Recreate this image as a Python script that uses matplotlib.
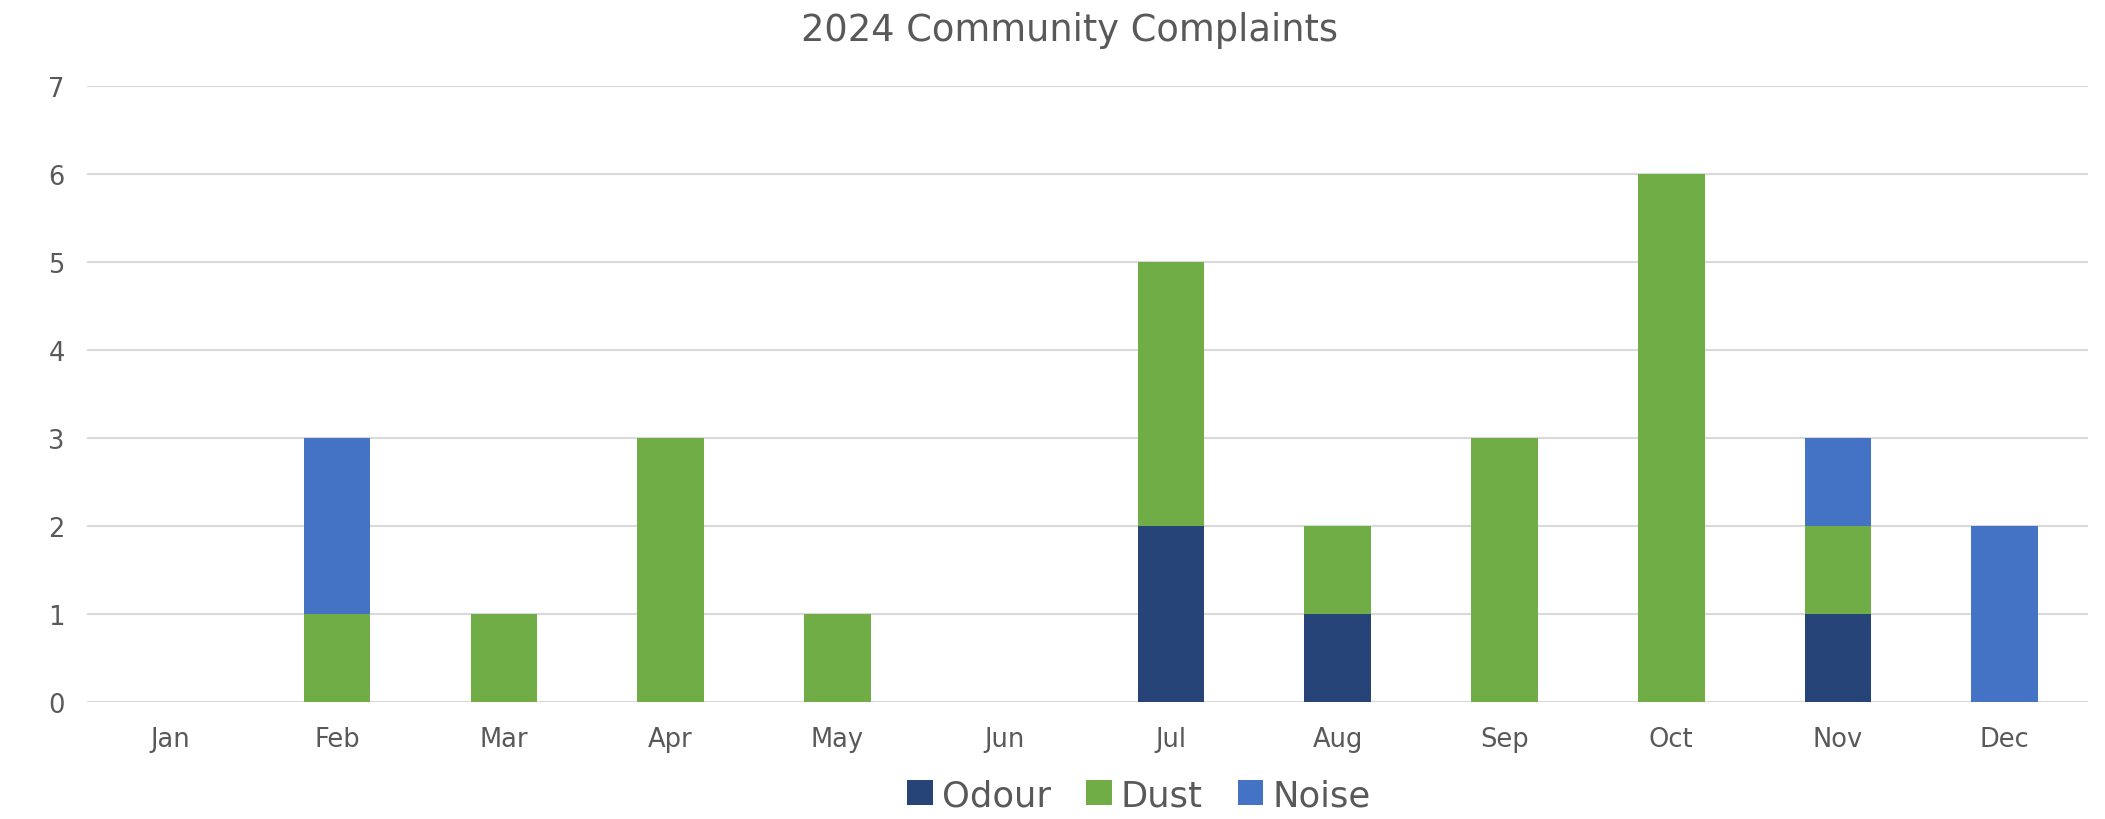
import numpy as np
import matplotlib.pyplot as plt

# Datos
meses = ['Jan', 'Feb', 'Mar', 'Apr', 'May', 'Jun', 'Jul', 'Aug', 'Sep', 'Oct', 'Nov', 'Dec']
odour = [0, 0, 0, 0, 0, 0, 2, 1, 0, 0, 1, 0]
dust = [0, 1, 1, 3, 1, 0, 3, 1, 3, 6, 1, 0]
noise = [0, 2, 0, 0, 0, 0, 0, 0, 0, 0, 1, 2]

gris = '#595959'
plt.rcParams['font.family'] = ['DejaVu Sans']

fig = plt.figure(figsize=(21.05, 8.2), dpi=100)
ax = fig.add_axes([0.0413, 0.1427, 0.9507, 0.7513])

x = np.arange(len(meses))
ancho = 0.40
b1 = ax.bar(x, odour, ancho, color='#264478', label='Odour', zorder=3)
b2 = ax.bar(x, dust, ancho, bottom=odour, color='#70AD47', label='Dust', zorder=3)
base = np.array(odour) + np.array(dust)
b3 = ax.bar(x, noise, ancho, bottom=base, color='#4472C4', label='Noise', zorder=3)

# Ejes
ax.set_xlim(-0.5, 11.5)
ax.set_ylim(0, 7)
ax.set_yticks(range(0, 8))
ax.set_xticks(x)
ax.set_xticklabels(meses)
ax.grid(axis='y', color='#D9D9D9', linewidth=1.5, zorder=0)
for s in ['top', 'right', 'left', 'bottom']:
    ax.spines[s].set_visible(False)
ax.tick_params(axis='both', length=0, labelsize=18.5, colors=gris)
ax.tick_params(axis='x', pad=17)
ax.tick_params(axis='y', pad=16)

fig.text(0.508, 0.963, '2024 Community Complaints', ha='center', va='center', fontsize=26.5, color=gris)

ley = fig.legend(handles=[b1, b2, b3], loc='center', bbox_to_anchor=(0.541, 0.029), ncol=3,
                 frameon=False, fontsize=25.5, handlelength=0.72, handleheight=0.72,
                 handletextpad=0.25, columnspacing=1.0)
for t in ley.get_texts():
    t.set_color(gris)

fig.savefig('out.png', dpi=100)
